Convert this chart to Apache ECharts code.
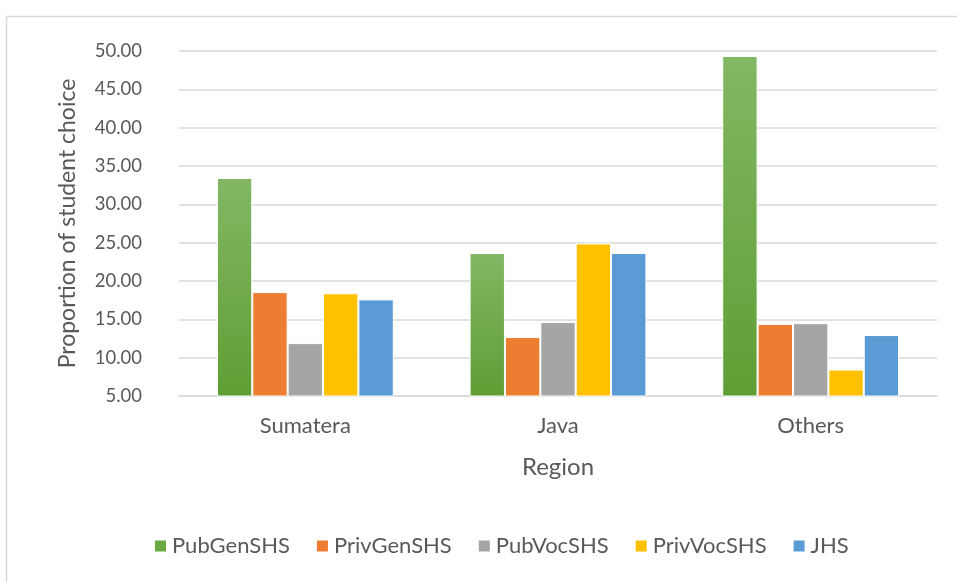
<!DOCTYPE html>
<html>
<head>
<meta charset="utf-8">
<script src="https://cdn.jsdelivr.net/npm/echarts@6/dist/echarts.min.js"></script>
<style>
  html, body { margin: 0; padding: 0; background: #fff; }
  #chart { width: 957px; height: 582px; }
</style>
</head>
<body>
<div id="chart"></div>
<script>
// Regions on the x axis
const regions = ['Sumatera', 'Java', 'Others'];

// Share of student choice per school type, one value per region
const seriesNames = ['PubGenSHS', 'PrivGenSHS', 'PubVocSHS', 'PrivVocSHS', 'JHS'];
const pubGenSHS  = [33.45, 23.65, 49.35];
const privGenSHS = [18.55, 12.70, 14.40];
const pubVocSHS  = [11.90, 14.65, 14.50];
const privVocSHS = [18.40, 24.90, 8.45];
const jhs        = [17.60, 23.65, 12.95];

// Value axis range
const yMin = 5;
const yMax = 50;
const yStep = 5;

const values = [pubGenSHS, privGenSHS, pubVocSHS, privVocSHS, jhs];

const fontFamily = 'Lato, "Open Sans", sans-serif';
const textColor = '#595959';
const gridColor = '#d9d9d9';

const colors = [
  new echarts.graphic.LinearGradient(0, 0, 0, 1, [
    { offset: 0, color: '#82b764' },
    { offset: 1, color: '#5f9e34' }
  ]),
  '#ed7d31', '#a5a5a5', '#ffc000', '#5b9bd5'
];
const legendColors = ['#6aa842', '#ed7d31', '#a5a5a5', '#ffc000', '#5b9bd5'];

const chart = echarts.init(document.getElementById('chart'), null, { renderer: 'canvas' });

chart.setOption({
  animation: false,
  backgroundColor: '#fff',
  textStyle: { fontFamily: fontFamily },
  graphic: [{
    type: 'rect',
    shape: { x: 6.5, y: 16.5, width: 960, height: 580 },
    style: { fill: 'none', stroke: gridColor, lineWidth: 1.5 },
    silent: true,
    z: -1
  }],
  grid: { left: 179, right: 20, top: 51, bottom: 186 },
  legend: {
    bottom: 20,
    left: 148,
    itemWidth: 13,
    itemHeight: 13,
    itemGap: 25,
    icon: 'rect',
    textStyle: { fontSize: 22, color: textColor, fontFamily: fontFamily },
    data: seriesNames.map((n, i) => ({ name: n, itemStyle: { color: legendColors[i] } }))
  },
  xAxis: {
    type: 'category',
    data: regions,
    name: 'Region',
    nameLocation: 'middle',
    nameGap: 59,
    nameTextStyle: { fontSize: 24, color: textColor, fontFamily: fontFamily },
    axisLine: { lineStyle: { color: gridColor, width: 1.5 } },
    axisTick: { show: false },
    axisLabel: { fontSize: 22, color: textColor, margin: 19, fontFamily: fontFamily }
  },
  yAxis: {
    type: 'value',
    min: yMin,
    max: yMax,
    interval: yStep,
    name: 'Proportion of student choice',
    nameLocation: 'middle',
    nameGap: 100,
    nameTextStyle: { fontSize: 23, color: textColor, fontFamily: fontFamily },
    axisLine: { show: false },
    axisTick: { show: false },
    axisLabel: {
      fontSize: 18.5, color: textColor, margin: 37, fontFamily: fontFamily,
      formatter: v => v.toFixed(2)
    },
    splitLine: { lineStyle: { color: gridColor, width: 1.5 } }
  },
  series: seriesNames.map((name, i) => ({
    name: name,
    type: 'bar',
    data: values[i],
    barGap: '0%',
    barCategoryGap: '30%',
    itemStyle: { color: colors[i], borderColor: '#ffffff', borderWidth: 1 }
  }))
});
</script>
</body>
</html>
